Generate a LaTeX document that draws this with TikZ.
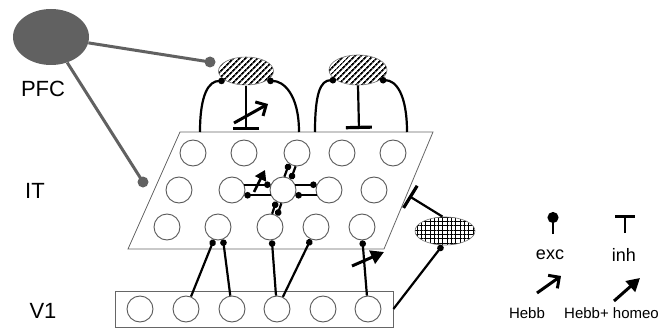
\documentclass[tikz,border=0pt]{standalone}
\usepackage{fontspec}
\setmainfont{Liberation Sans}
\usetikzlibrary{arrows.meta,shapes.geometric,patterns.meta,calc}
\begin{document}
\begin{tikzpicture}[x=1pt,y=-1pt,
  neuron/.style={circle,draw=black!65,line width=0.9pt,minimum size=26pt,inner sep=0pt,fill=white},
  excline/.style={line width=2.2pt,-{Circle[length=6.5pt]}},
  inhline/.style={line width=2.2pt,-{Bar[width=#1,line width=3.2pt]}},
  hebbarrow/.style={line width=3pt,-{Straight Barb[length=8pt,width=16pt,line width=3pt]}},
  homeoarrow/.style={line width=3pt,-{Triangle[length=13pt,width=14pt]}},
  gdot/.style={circle,fill=black!62,minimum size=11pt,inner sep=0pt},
  pfcline/.style={draw=black!62,line width=3pt},
  hatchcell/.style={ellipse,draw=black!55,line width=0.6pt,inner sep=0pt,
     pattern={Lines[angle=45,distance=4pt,line width=1.8pt]}},
  gridcell/.style={ellipse,draw=black!55,line width=0.6pt,inner sep=0pt,
     pattern={Hatch[angle=0,distance=4.3pt,line width=0.9pt]}},
  area/.style={draw=black!60,line width=0.8pt},
  biglabel/.style={font=\fontsize{22}{26}\selectfont},
  leglabel/.style={font=\fontsize{18}{21}\selectfont},
  smalllabel/.style={font=\fontsize{15}{18}\selectfont}
]
\useasboundingbox (0,0) rectangle (670,329);

% areas
\coordinate (ITtl) at (180,132);
\coordinate (ITtr) at (433,132);
\coordinate (ITbr) at (384,249);
\coordinate (ITbl) at (128,249);
\draw[area] (ITtl) -- (ITtr) -- (ITbr) -- (ITbl) -- cycle;
\node[area,draw,minimum width=278pt,minimum height=36pt,inner sep=0pt] (v1box) at (254,309) {};

% labels
\node[biglabel] (lpfc) at (43,89) {PFC};
\node[biglabel] (lit) at (35,191) {IT};
\node[biglabel] (lv1) at (43,311) {V1};

% PFC
\node[ellipse,fill=black!62,minimum width=76pt,minimum height=56pt,inner sep=0pt] (pfc) at (51,37) {};
\node[gdot] (pd1) at (210,62) {};
\node[gdot] (pd2) at (143,182) {};
\draw[pfcline] (pfc) -- (pd1.center);
\draw[pfcline] (pfc) -- (pd2.center);

% IT neurons
\node[neuron] (a1) at (193,153) {};
\node[neuron] (a2) at (244,153) {};
\node[neuron] (a3) at (297,153) {};
\node[neuron] (a4) at (342,153) {};
\node[neuron] (a5) at (393,153) {};
\node[neuron] (b1) at (179,190) {};
\node[neuron] (b2) at (232,190) {};
\node[neuron] (b3) at (283,190) {};
\node[neuron] (b4) at (329,190) {};
\node[neuron] (b5) at (374,190) {};
\node[neuron] (c1) at (167,227) {};
\node[neuron] (c2) at (218,227) {};
\node[neuron] (c3) at (270,227) {};
\node[neuron] (c4) at (316,227) {};
\node[neuron] (c5) at (362,227) {};

% V1 neurons
\node[neuron] (v1) at (140,309) {};
\node[neuron] (v2) at (186,309) {};
\node[neuron] (v3) at (232,309) {};
\node[neuron] (v4) at (277,309) {};
\node[neuron] (v5) at (323,309) {};
\node[neuron] (v6) at (368,309) {};

% inhibitory cells
\node[hatchcell,minimum width=55pt,minimum height=28pt] (h1) at (246,71) {};
\node[hatchcell,minimum width=58pt,minimum height=30pt] (h2) at (358,70) {};
\node[gridcell,minimum width=60pt,minimum height=28pt] (g) at (445,231) {};

% IT top edge points
\coordinate (e1) at (200,132);
\coordinate (e2) at (299,132);
\coordinate (e3) at (315,132);
\coordinate (e4) at (407,132);
\draw[excline] (e1) .. controls +(0,-38) and +(-16,0) .. (h1.205);
\draw[excline] (e2) .. controls +(0,-38) and +(16,0) .. (h1.335);
\draw[excline] (e3) .. controls +(0,-38) and +(-16,0) .. (h2.205);
\draw[excline] (e4) .. controls +(0,-38) and +(16,0) .. (h2.335);

\coordinate (t1) at (246,130);
\coordinate (t2) at (359,129);
\draw[inhline=26pt] (h1.south) -- (t1);
\draw[inhline=26pt] (h2.south) -- (t2);
\coordinate (hb0) at (234,123);
\coordinate (hb1) at (268,104);
\draw[hebbarrow] (hb0) -- (hb1);

% lateral connections around b3
\draw[excline] (b2.23) -- (b3.157);
\draw[excline] (b3.203) -- (b2.337);
\draw[excline] (b3.23) -- (b4.157);
\draw[excline] (b4.203) -- (b3.337);
\draw[excline] (b3.84) -- (a3.234);
\draw[excline] (a3.264) -- (b3.54);
\draw[excline] (c3.81) -- (b3.240);
\draw[excline] (b3.263) -- (c3.58);
\coordinate (hm0) at (254,192);
\coordinate (hm1) at (265,170);
\draw[line width=2.6pt,-{Triangle[length=10pt,width=12pt]}] (hm0) -- (hm1);

% V1 -> IT
\draw[excline] (v2) -- (c2.252);
\draw[excline] (v3) -- (c2.292);
\draw[excline] (v4) -- (c3.278);
\draw[excline] (v4) -- (c4.247);
\draw[excline] (v6) -- (c5.272);
\coordinate (hm2) at (352,266);
\coordinate (hm3) at (384,252);
\draw[homeoarrow] (hm2) -- (hm3);

% grid inhibitory cell
\coordinate (tg) at (409,196);
\draw[inhline=26pt] (g.100) -- (tg);
\draw[excline] (v1box.east) -- (g.260);

% legend
\coordinate (lexc0) at (553,234);
\coordinate (lexc1) at (553,212);
\draw[line width=2pt,-{Circle[length=11pt]}] (lexc0) -- (lexc1);
\node[leglabel] (lexc) at (550,255) {exc};
\coordinate (linh0) at (625,233);
\coordinate (linh1) at (625,215);
\draw[line width=2pt,-{Bar[width=20pt,line width=2.5pt]}] (linh0) -- (linh1);
\node[leglabel] (linh) at (624,255) {inh};
\coordinate (lhb0) at (537,293);
\coordinate (lhb1) at (561,276);
\draw[hebbarrow] (lhb0) -- (lhb1);
\coordinate (lhm0) at (614,301);
\coordinate (lhm1) at (640,278);
\draw[homeoarrow] (lhm0) -- (lhm1);
\node[smalllabel] (lhebb) at (527,313) {Hebb};
\node[smalllabel,anchor=west,inner sep=0pt] (lhomeo) at (564,313) {Hebb+ homeo};
\end{tikzpicture}
\end{document}
